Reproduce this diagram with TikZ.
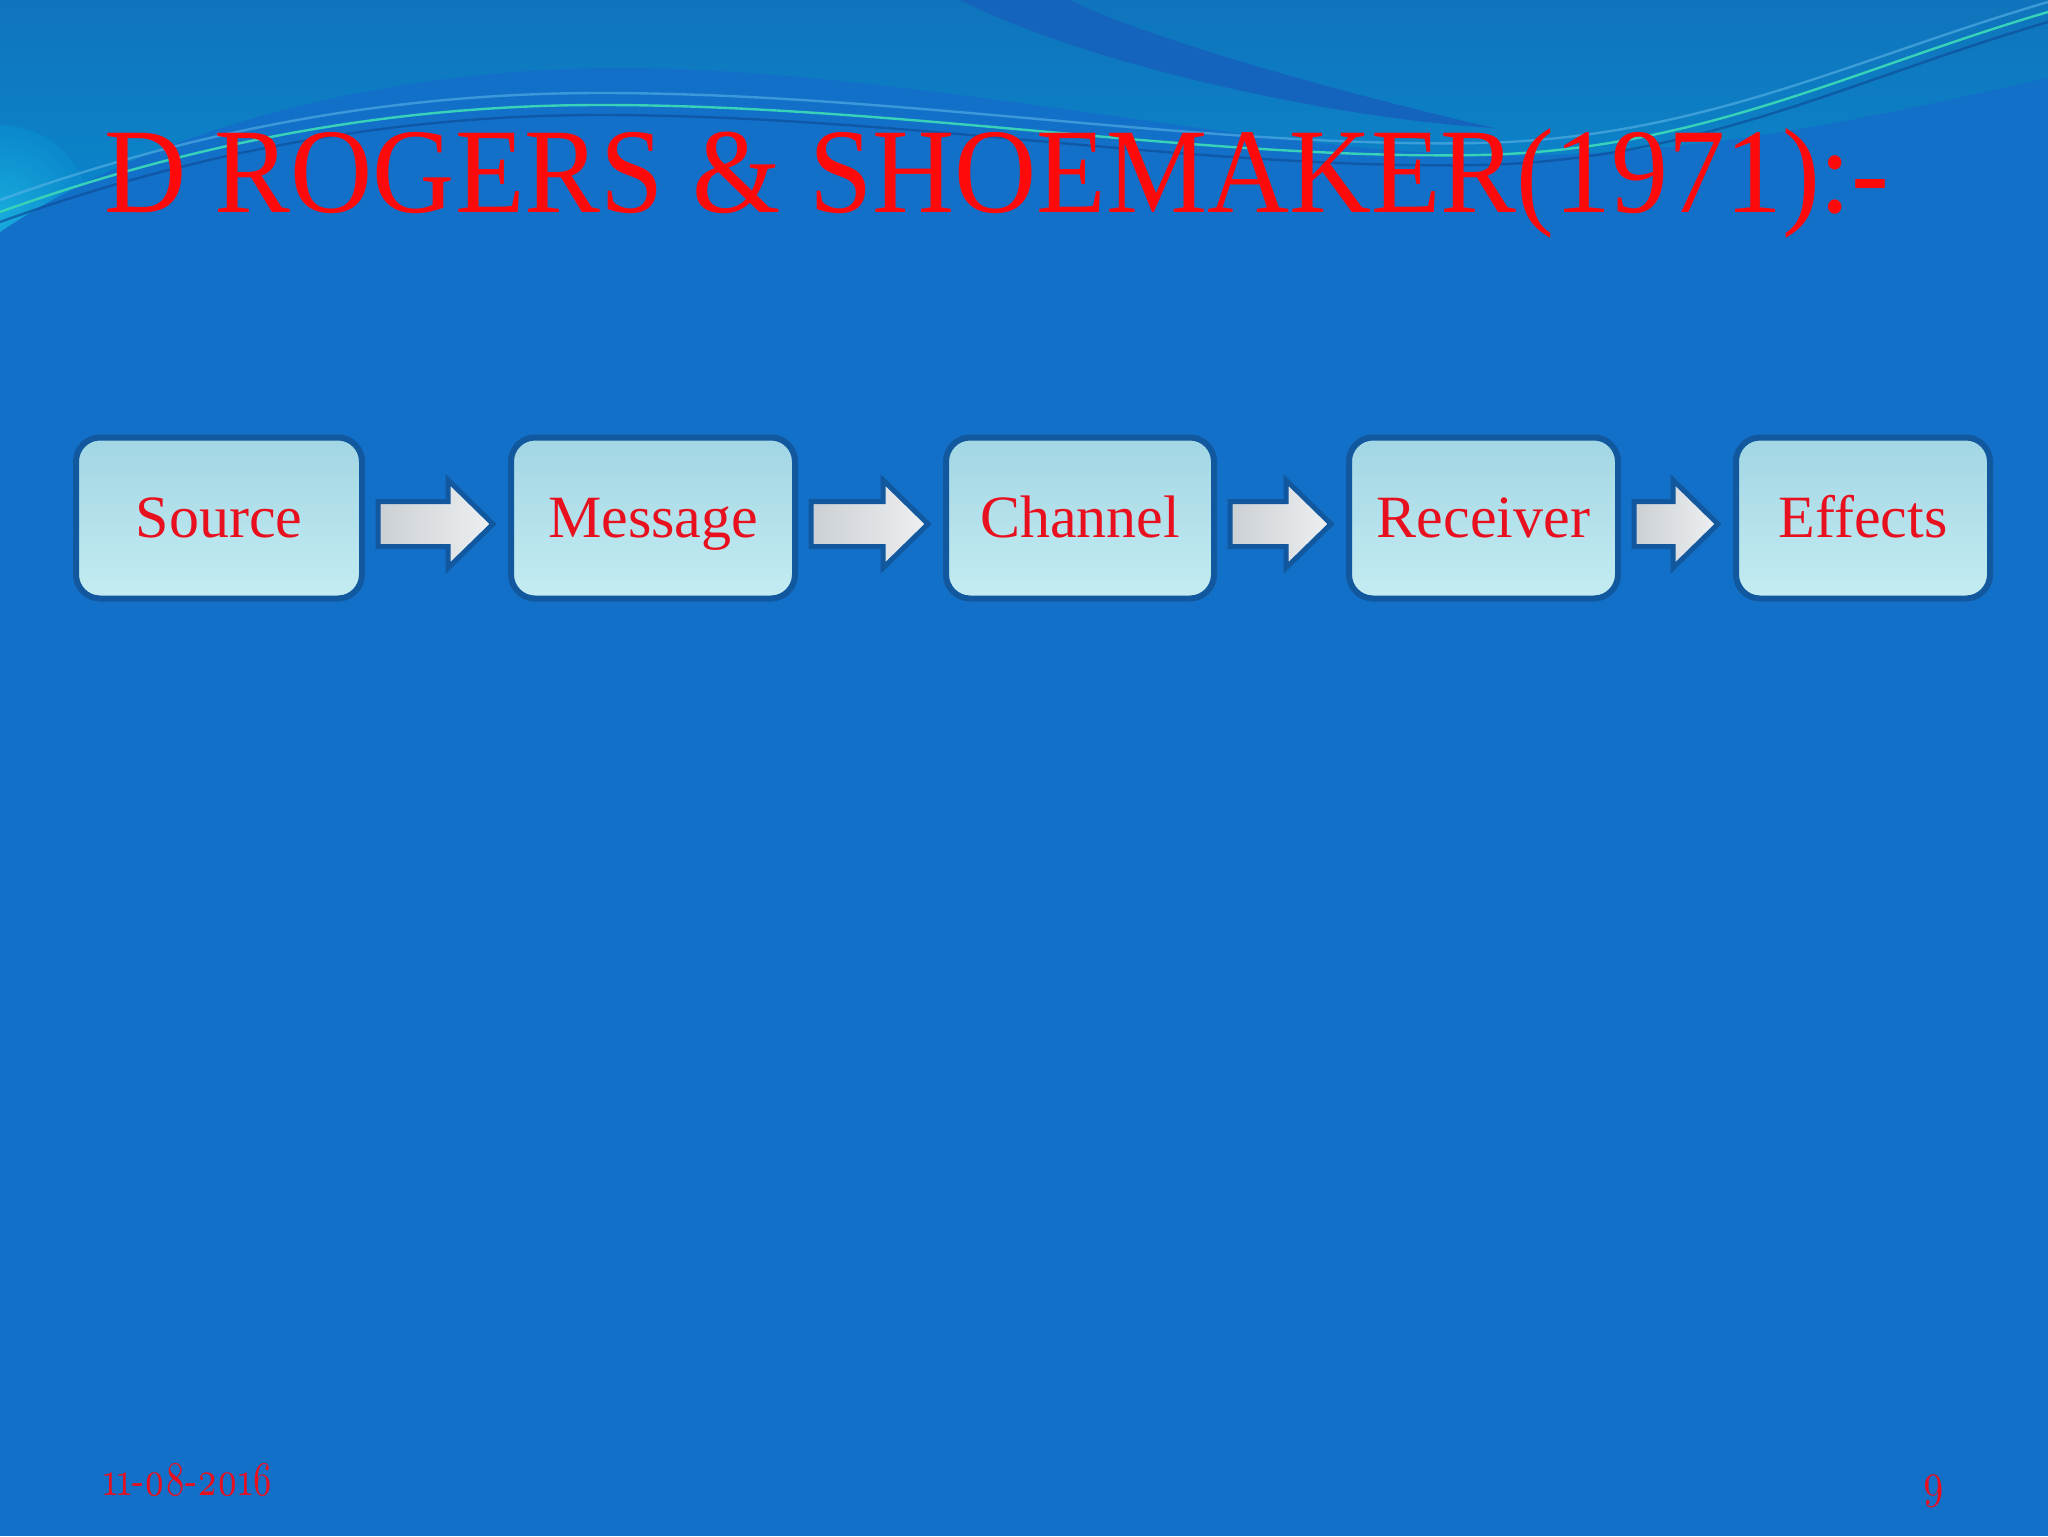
\documentclass[tikz,border=0pt]{standalone}
\usepackage{fontspec}
\usepackage{graphicx}
\setmainfont{Liberation Serif}
\newfontfamily\oldnum{lmroman10-regular.otf}[Numbers=OldStyle]
\usetikzlibrary{calc}
\definecolor{bgblue}{HTML}{1370C9}
\definecolor{topA}{HTML}{0F74BC}
\definecolor{topB}{HTML}{0A88CC}
\definecolor{bandblue}{HTML}{1464BE}
\definecolor{glowcyan}{HTML}{18AADC}
\definecolor{linecyan}{HTML}{38D2B8}
\definecolor{lineblue}{HTML}{5AB4E6}
\definecolor{linedark}{HTML}{0E4E9A}
\definecolor{boxborder}{HTML}{12589F}
\definecolor{aquaT}{HTML}{A2D6E4}
\definecolor{aquaM}{HTML}{B6E3EC}
\definecolor{aquaB}{HTML}{C4ECF2}
\definecolor{arrowA}{HTML}{CBD0D4}
\definecolor{arrowB}{HTML}{EEF0F2}
\definecolor{txtred}{HTML}{E8101E}
\definecolor{titlered}{HTML}{FF0A0A}
\tikzset{
  stage/.style={draw=boxborder, line width=3pt, rounded corners=12pt,
    minimum height=80.5pt, inner sep=0pt,
    text height=27pt, text depth=7.2pt,
    top color=aquaT, middle color=aquaM, bottom color=aquaB,
    text=txtred, font=\fontsize{30}{36}\selectfont},
  flowarrow/.style={draw=boxborder, line width=2.5pt, line join=miter,
    left color=arrowA, right color=arrowB},
  wave/.style={line width=1.2pt},
}
\begin{document}
\begin{tikzpicture}[x=0.5pt,y=-0.5pt]
\useasboundingbox (0,0) rectangle (2048,1536);
% background
\fill[bgblue] (0,0) rectangle (2048,1536);
\begin{scope}
\clip (0,0) -- (2048,0) -- (2048,78)
  .. controls (1900,110) and (1700,160) .. (1480,155)
  .. controls (1250,150) and (900,68) .. (620,68)
  .. controls (380,68) and (150,130) .. (0,232) -- cycle;
\shade[top color=topA, bottom color=topB] (0,0) rectangle (2048,232);
\shade[inner color=glowcyan, outer color=topB] (0,215) circle[radius=90];
\end{scope}
\fill[bandblue] (960,0) .. controls (1100,70) and (1350,120) .. (1494,128)
  .. controls (1350,95) and (1150,40) .. (1070,0) -- cycle;
\draw[wave, lineblue, opacity=0.6] (0,200) .. controls (200,128) and (400,93) .. (600,93)
  .. controls (900,93) and (1200,148) .. (1480,143)
  .. controls (1700,138) and (1850,60) .. (2048,2);
\draw[wave, linedark, opacity=0.7] (0,222) .. controls (200,150) and (400,115) .. (600,115)
  .. controls (900,115) and (1200,170) .. (1480,165)
  .. controls (1700,160) and (1850,80) .. (2048,22);
\draw[wave, linecyan] (0,212) .. controls (200,140) and (400,105) .. (600,105)
  .. controls (900,105) and (1200,160) .. (1480,155)
  .. controls (1700,150) and (1850,70) .. (2048,12);
% title
\node[anchor=base west, inner sep=0pt, text=titlered,
  font=\fontsize{60.5}{70}\selectfont] (title) at (104,212)
  {\scalebox{0.94}[1]{D ROGERS \& SHOEMAKER(1971):-}};
% stages
\node[stage, minimum width=143pt] (src) at (219,518) {Source};
\node[stage, minimum width=142pt] (msg) at (653,518) {Message};
\node[stage, minimum width=134pt] (chn) at (1080,518) {Channel};
\node[stage, minimum width=134.5pt] (rcv) at (1483.5,518) {Receiver};
\node[stage, minimum width=127pt] (eff) at (1863,518) {Effects};
% block arrows
\foreach \a/\b in {src/msg, msg/chn, chn/rcv, rcv/eff}{
  \draw[flowarrow] let \p1=($(\a.east)+(13,6)$), \p2=($(\b.west)+(-15,6)$) in
    (\x1,\y1+11.25pt) -- (\x2-22.5pt,\y1+11.25pt) -- (\x2-22.5pt,\y1+22pt)
    -- (\x2,\y1) -- (\x2-22.5pt,\y1-22pt) -- (\x2-22.5pt,\y1-11.25pt)
    -- (\x1,\y1-11.25pt) -- cycle;
}
% footer
\node[anchor=base west, inner sep=0pt, text=txtred,
  font=\oldnum\fontsize{21}{24}\selectfont] (date) at (103,1495)
  {\scalebox{0.86}[1.15]{11-08-2016}};
\node[anchor=base east, inner sep=0pt, text=txtred,
  font=\oldnum\fontsize{21}{24}\selectfont] (page) at (1945,1497)
  {\scalebox{0.95}[1.15]{9}};
\end{tikzpicture}
\end{document}
